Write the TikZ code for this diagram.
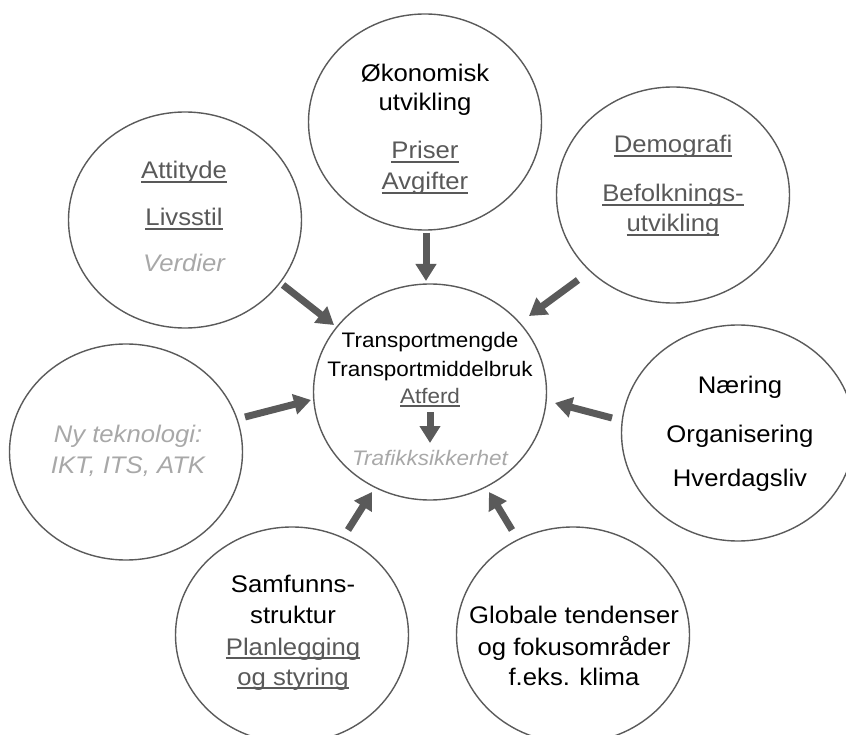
\documentclass[tikz,border=0pt]{standalone}
\usepackage{fontspec}
\setmainfont[FakeStretch=1.07]{Liberation Sans}
\usetikzlibrary{shapes.geometric,arrows.meta}
\definecolor{edgegray}{HTML}{5A5A5A}
\definecolor{ulgray}{HTML}{595959}
\definecolor{lightgray}{HTML}{A8A8A8}
\newcommand{\myul}[1]{\setbox0\hbox{#1}\rlap{\rule[-4pt]{\wd0}{1.8pt}}\box0}
\tikzset{
  bubble/.style={ellipse, draw=edgegray, line width=1.4pt, minimum width=233pt, minimum height=216pt, inner sep=0pt},
  txt/.style={anchor=base, inner sep=0pt, font=\fontsize{24}{28}\selectfont},
  ctxt/.style={anchor=base, inner sep=0pt, font=\fontsize{21}{25}\selectfont},
  black/.style={text=black},
  dark/.style={text=ulgray},
  pale/.style={text=lightgray, font=\fontsize{24}{28}\selectfont\itshape},
  cpale/.style={text=lightgray, font=\fontsize{21}{25}\selectfont\itshape},
  arr/.style={draw=edgegray, line width=7pt, -{Triangle[length=17pt,width=20pt]}, fill=edgegray}
}
\begin{document}
\begin{tikzpicture}[x=1pt,y=-1pt]
\useasboundingbox (0,0) rectangle (846,735);
\clip (0,0) rectangle (846,735);
% bubbles
\node[bubble] (eco) at (425,122) {};
\node[bubble] (att) at (185,220) {};
\node[bubble] (dem) at (673,195) {};
\node[bubble] (ctr) at (430,392) {};
\node[bubble] (ny)  at (126,452) {};
\node[bubble] (nae) at (738,433) {};
\node[bubble] (sam) at (292,635) {};
\node[bubble] (glo) at (573,635) {};
% texts
\node[txt,black] (eco1) at (425,82) {Økonomisk};
\node[txt,black] (eco2) at (425,111) {utvikling};
\node[txt,dark] (eco3) at (425,159) {\myul{Priser}};
\node[txt,dark] (eco4) at (425,190) {\myul{Avgifter}};
\node[txt,dark] (att1) at (184,179) {\myul{Attityde}};
\node[txt,dark] (att2) at (184,226) {\myul{Livsstil}};
\node[txt,pale] (att3) at (184,272) {Verdier};
\node[txt,dark] (dem1) at (673,153) {\myul{Demografi}};
\node[txt,dark] (dem2) at (673,202) {\myul{Befolknings-}};
\node[txt,dark] (dem3) at (673,232) {\myul{utvikling}};
\node[ctxt,black] (ctr1) at (430,348) {Transportmengde};
\node[ctxt,black] (ctr2) at (430,376) {Transportmiddelbruk};
\node[ctxt,dark] (ctr3) at (430,403) {\myul{Atferd}};
\node[ctxt,cpale] (ctr4) at (430,465) {Trafikksikkerhet};
\node[txt,pale] (ny1) at (128,442) {Ny teknologi:};
\node[txt,pale] (ny2) at (128,473) {IKT, ITS, ATK};
\node[txt,black] (nae1) at (740,393) {Næring};
\node[txt,black] (nae2) at (740,442) {Organisering};
\node[txt,black] (nae3) at (740,486) {Hverdagsliv};
\node[txt,black] (sam1) at (293,592) {Samfunns-};
\node[txt,black] (sam2) at (293,623) {struktur};
\node[txt,dark] (sam3) at (293,655) {\myul{Planlegging}};
\node[txt,dark] (sam4) at (293,685) {\myul{og styring}};
\node[txt,black] (glo1) at (574,623) {Globale tendenser};
\node[txt,black] (glo2) at (574,655) {og fokusområder};
\node[txt,black] (glo3) at (574,685) {f.eks. klima};
% arrow end points
\coordinate (ecoS) at (426,233); \coordinate (ecoT) at (426,281);
\coordinate (attS) at (283,285); \coordinate (attT) at (334,325);
\coordinate (demS) at (578,280); \coordinate (demT) at (529,316);
\coordinate (nyS) at (245,417);  \coordinate (nyT) at (311,400);
\coordinate (naeS) at (612,418); \coordinate (naeT) at (555,403);
\coordinate (samS) at (348,530); \coordinate (samT) at (372,492);
\coordinate (gloS) at (512,530); \coordinate (gloT) at (489,492);
\coordinate (inS) at (430,412);  \coordinate (inT) at (430,443);
\draw[arr] (ecoS) -- (ecoT);
\draw[arr] (attS) -- (attT);
\draw[arr] (demS) -- (demT);
\draw[arr] (nyS) -- (nyT);
\draw[arr] (naeS) -- (naeT);
\draw[arr] (samS) -- (samT);
\draw[arr] (gloS) -- (gloT);
\draw[arr] (inS) -- (inT);
\end{tikzpicture}
\end{document}
